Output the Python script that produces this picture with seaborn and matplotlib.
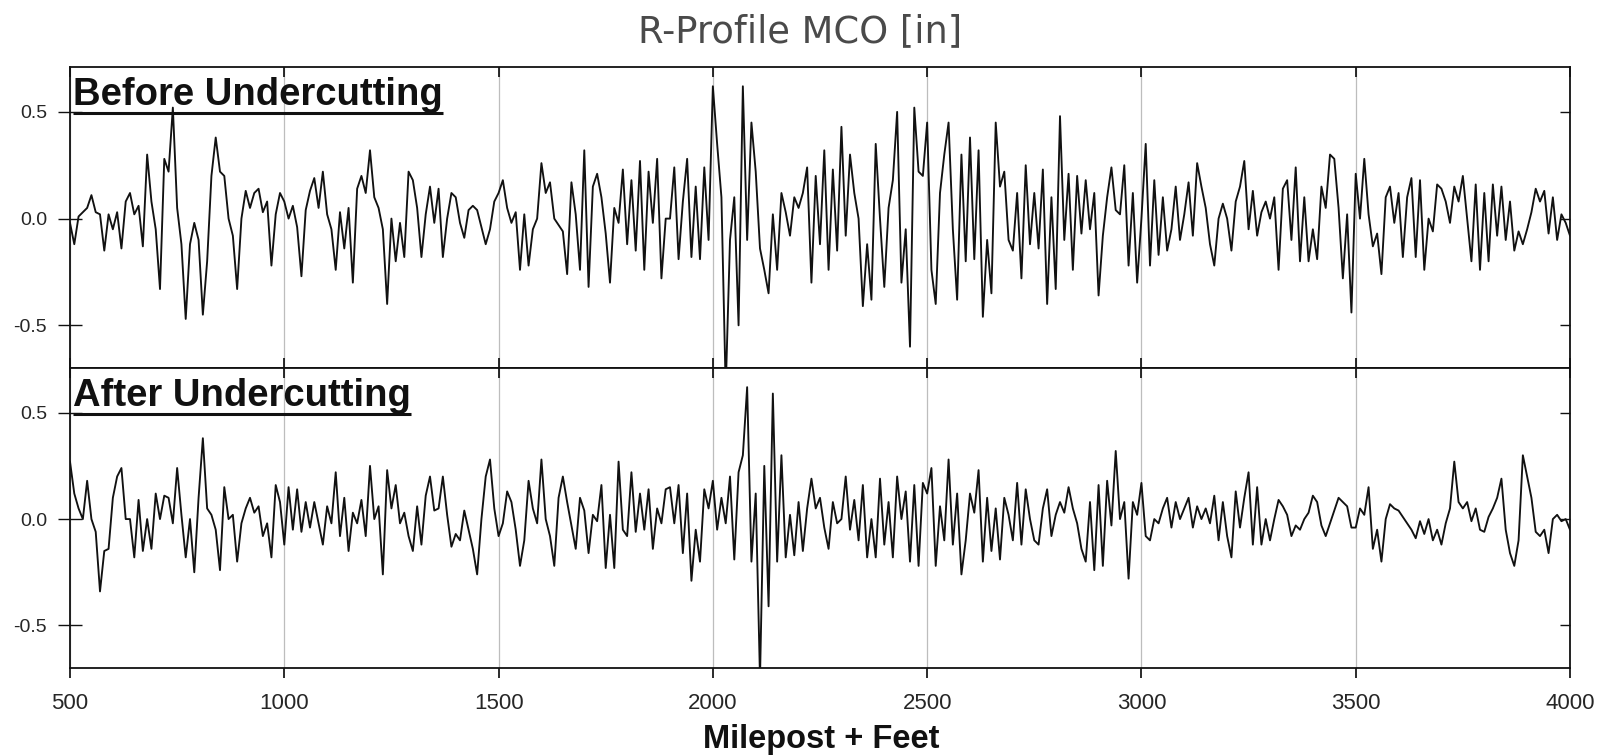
import matplotlib
matplotlib.use("Agg")
import matplotlib.pyplot as plt
from matplotlib import lines as mlines
import numpy as np
import pandas as pd
import seaborn as sns

# Milepost + feet, one reading every 10 ft
feet = np.arange(500, 4001, 10)

# R-profile MCO [in]
before = [
    -0.02, -0.12, 0.01, 0.03, 0.05, 0.11, 0.03, 0.02, -0.15, 0.02,
    -0.05, 0.03, -0.14, 0.08, 0.12, 0.02, 0.06, -0.13, 0.30, 0.08,
    -0.05, -0.33, 0.28, 0.22, 0.52, 0.05, -0.12, -0.47, -0.12, -0.02,
    -0.10, -0.45, -0.20, 0.20, 0.38, 0.22, 0.20, 0.00, -0.08, -0.33,
    0.00, 0.13, 0.05, 0.12, 0.14, 0.03, 0.08, -0.22, 0.02, 0.12,
    0.08, 0.00, 0.06, -0.04, -0.27, 0.04, 0.13, 0.19, 0.05, 0.22,
    0.02, -0.05, -0.24, 0.03, -0.14, 0.05, -0.30, 0.14, 0.20, 0.12,
    0.32, 0.10, 0.05, -0.05, -0.40, 0.00, -0.20, -0.02, -0.18, 0.22,
    0.18, 0.05, -0.18, 0.02, 0.15, -0.02, 0.14, -0.18, 0.00, 0.12,
    0.10, -0.02, -0.09, 0.04, 0.06, 0.04, -0.04, -0.12, -0.05, 0.08,
    0.12, 0.18, 0.05, -0.02, 0.03, -0.24, 0.02, -0.22, -0.05, 0.00,
    0.26, 0.12, 0.17, 0.00, -0.03, -0.06, -0.26, 0.17, 0.02, -0.24,
    0.32, -0.32, 0.15, 0.21, 0.10, -0.07, -0.30, 0.05, -0.02, 0.23,
    -0.12, 0.18, -0.15, 0.27, -0.24, 0.22, -0.02, 0.28, -0.28, 0.00,
    0.00, 0.24, -0.19, 0.08, 0.28, -0.18, 0.15, -0.19, 0.24, -0.10,
    0.62, 0.35, 0.10, -0.80, -0.10, 0.10, -0.50, 0.62, -0.10, 0.45,
    0.22, -0.14, -0.24, -0.35, 0.02, -0.24, 0.12, 0.03, -0.08, 0.10,
    0.05, 0.12, 0.24, -0.30, 0.20, -0.12, 0.32, -0.24, 0.23, -0.15,
    0.43, -0.08, 0.30, 0.12, 0.00, -0.41, -0.12, -0.38, 0.35, 0.00,
    -0.32, 0.05, 0.18, 0.50, -0.30, -0.05, -0.60, 0.52, 0.22, 0.20,
    0.45, -0.24, -0.40, 0.12, 0.30, 0.45, -0.05, -0.38, 0.30, -0.20,
    0.38, -0.19, 0.32, -0.46, -0.10, -0.35, 0.45, 0.15, 0.22, -0.10,
    -0.15, 0.12, -0.28, 0.25, -0.12, 0.12, -0.14, 0.23, -0.40, 0.10,
    -0.33, 0.48, -0.10, 0.21, -0.24, 0.20, -0.07, 0.18, -0.05, 0.12,
    -0.36, -0.08, 0.10, 0.24, 0.04, 0.02, 0.25, -0.22, 0.12, -0.30,
    0.00, 0.35, -0.22, 0.18, -0.17, 0.10, -0.15, -0.05, 0.15, -0.10,
    0.02, 0.17, -0.08, 0.26, 0.15, 0.05, -0.12, -0.22, 0.00, 0.07,
    0.00, -0.15, 0.08, 0.15, 0.27, -0.05, 0.13, -0.08, 0.03, 0.08,
    0.00, 0.10, -0.24, 0.14, 0.18, -0.10, 0.24, -0.20, 0.10, -0.20,
    -0.05, -0.19, 0.15, 0.05, 0.30, 0.28, 0.05, -0.28, 0.02, -0.44,
    0.21, 0.00, 0.28, 0.02, -0.13, -0.07, -0.26, 0.10, 0.15, -0.02,
    0.12, -0.18, 0.10, 0.19, -0.18, 0.18, -0.24, 0.00, -0.06, 0.16,
    0.14, 0.08, -0.02, 0.15, 0.08, 0.20, 0.00, -0.20, 0.16, -0.24,
    0.12, -0.20, 0.16, -0.08, 0.15, -0.10, 0.08, -0.15, -0.06, -0.12,
    -0.05, 0.03, 0.14, 0.08, 0.13, -0.07, 0.10, -0.10, 0.02, -0.02,
    -0.08,
]

after = [
    0.27, 0.12, 0.05, 0.00, 0.18, 0.00, -0.06, -0.34, -0.15, -0.14,
    0.10, 0.20, 0.24, 0.00, 0.00, -0.18, 0.09, -0.15, 0.00, -0.14,
    0.12, 0.00, 0.11, 0.10, -0.02, 0.24, 0.02, -0.18, 0.00, -0.25,
    0.10, 0.38, 0.05, 0.02, -0.05, -0.24, 0.15, 0.00, 0.02, -0.20,
    -0.02, 0.05, 0.10, 0.03, 0.06, -0.08, -0.02, -0.18, 0.16, 0.08,
    -0.12, 0.15, -0.05, 0.14, -0.06, 0.08, -0.04, 0.08, -0.02, -0.12,
    0.06, -0.02, 0.22, -0.08, 0.10, -0.15, 0.03, -0.02, 0.09, -0.08,
    0.25, 0.00, 0.06, -0.26, 0.23, 0.05, 0.16, -0.02, 0.03, -0.08,
    -0.15, 0.06, -0.12, 0.11, 0.20, 0.04, 0.05, 0.20, 0.02, -0.13,
    -0.07, -0.10, 0.04, -0.05, -0.14, -0.26, 0.00, 0.20, 0.28, 0.05,
    -0.08, -0.02, 0.13, 0.08, -0.05, -0.22, -0.10, 0.18, 0.05, -0.02,
    0.28, 0.00, -0.08, -0.22, 0.10, 0.20, 0.08, -0.03, -0.14, 0.10,
    0.04, -0.16, 0.02, -0.01, 0.16, -0.23, 0.02, -0.23, 0.27, -0.05,
    -0.08, 0.22, -0.06, 0.12, -0.05, 0.14, -0.14, 0.05, -0.02, 0.14,
    0.15, -0.02, 0.16, -0.16, 0.12, -0.29, -0.05, -0.20, 0.14, 0.05,
    0.18, -0.05, 0.10, -0.02, 0.20, -0.19, 0.22, 0.30, 0.62, -0.20,
    0.12, -0.75, 0.25, -0.41, 0.59, -0.20, 0.30, -0.18, 0.02, -0.17,
    0.08, -0.15, 0.05, 0.19, 0.05, 0.10, -0.04, -0.14, 0.08, -0.02,
    0.00, 0.20, -0.05, 0.09, -0.10, 0.16, -0.18, 0.00, -0.18, 0.19,
    -0.12, 0.08, -0.18, 0.20, 0.00, 0.13, -0.20, 0.16, -0.22, 0.17,
    0.12, 0.24, -0.22, 0.06, -0.10, 0.28, -0.12, 0.12, -0.26, -0.10,
    0.12, 0.03, 0.23, -0.20, 0.10, -0.15, 0.05, -0.19, 0.10, 0.02,
    -0.10, 0.17, -0.12, 0.14, 0.00, -0.10, -0.12, 0.05, 0.14, -0.08,
    0.02, 0.08, 0.03, 0.15, 0.05, -0.02, -0.14, -0.20, 0.08, -0.24,
    0.16, -0.22, 0.18, -0.03, 0.32, 0.00, 0.08, -0.28, 0.08, 0.02,
    0.17, -0.08, -0.10, 0.00, -0.02, 0.05, 0.10, -0.04, 0.08, 0.00,
    0.05, 0.10, -0.04, 0.06, 0.00, 0.05, -0.02, 0.11, -0.10, 0.08,
    -0.08, -0.18, 0.13, -0.04, 0.10, 0.22, -0.12, 0.15, -0.12, 0.00,
    -0.10, 0.00, 0.09, 0.06, 0.02, -0.08, -0.03, -0.05, 0.00, 0.03,
    0.11, 0.08, -0.03, -0.08, -0.02, 0.04, 0.10, 0.08, 0.06, -0.04,
    -0.04, 0.05, 0.02, 0.15, -0.14, -0.05, -0.20, 0.00, 0.07, 0.05,
    0.04, 0.01, -0.02, -0.05, -0.09, -0.01, -0.07, 0.00, -0.10, -0.05,
    -0.12, -0.02, 0.05, 0.27, 0.08, 0.05, 0.08, -0.01, 0.05, -0.05,
    -0.06, 0.01, 0.05, 0.10, 0.19, -0.05, -0.16, -0.22, -0.10, 0.30,
    0.20, 0.10, -0.06, -0.08, -0.05, -0.16, 0.00, 0.02, -0.01, 0.00,
    -0.05,
]

panel_titles = ["Before Undercutting", "After Undercutting"]
x_ticks = [500, 1000, 1500, 2000, 2500, 3000, 3500, 4000]
y_ticks = [-0.5, 0.0, 0.5]
y_ticklabels = ["-0.5", "0.0", "0.5"]

df = pd.DataFrame({"feet": feet, "Before": before, "After": after})

sns.set_theme(style="white")
plt.rcParams["font.family"] = ["Liberation Sans", "DejaVu Sans"]

fig = plt.figure(figsize=(16, 7.56), dpi=100)
ax_top = fig.add_axes([0.04375, 0.5132, 0.9375, 0.3981])
ax_bot = fig.add_axes([0.04375, 0.1164, 0.9375, 0.3968])

labels = []
for ax, col, name in zip([ax_top, ax_bot], ["Before", "After"], panel_titles):
    sns.lineplot(data=df, x="feet", y=col, ax=ax, color="#111111", linewidth=1.35)
    ax.set_xlim(500, 4000)
    ax.set_ylim(-0.70, 0.71)
    ax.set_xticks(x_ticks)
    ax.set_yticks(y_ticks)
    ax.set_yticklabels(y_ticklabels)
    ax.grid(axis="x", color="#bdbdbd", linewidth=0.9)
    ax.grid(axis="y", visible=False)
    ax.set_xlabel("")
    ax.set_ylabel("")
    for sp in ax.spines.values():
        sp.set_color("#111111")
        sp.set_linewidth(1.3)
    ax.yaxis.set_ticks_position("both")
    ax.tick_params(axis="y", left=True, right=True, direction="inout", length=17,
                   width=1.0, color="#111111", labelsize=14, pad=8)
    t = ax.text(0.002, 0.968, name, transform=ax.transAxes, ha="left", va="top",
                fontsize=27.5, fontweight="bold", color="#111111")
    labels.append((ax, t))

ax_top.tick_params(axis="x", bottom=True, top=True, direction="in", length=7,
                   color="#111111", labelbottom=False)
ax_bot.tick_params(axis="x", bottom=True, top=True, direction="out", length=7,
                   color="#111111", labelsize=16, pad=11)

# right-hand y ticks point inward, top x ticks of the lower panel too
for ax in [ax_top, ax_bot]:
    for tk in ax.yaxis.get_major_ticks():
        tk.tick2line.set_marker(mlines.TICKLEFT)
        tk.tick2line.set_markersize(7)
for tk in ax_bot.xaxis.get_major_ticks():
    tk.tick2line.set_marker(mlines.TICKDOWN)
    tk.tick2line.set_markersize(7)

fig.text(0.5135, 0.0106, "Milepost + Feet", ha="center", va="baseline",
         fontsize=23.5, fontweight="bold", color="#111111")

fig.text(0.5, 0.944, "R-Profile MCO [in]", ha="center", va="baseline",
         fontsize=26.5, color="#4a4a4a", family=["DejaVu Sans"])

# underline the panel labels
fig.canvas.draw()
for ax, t in labels:
    bb = t.get_window_extent().transformed(ax.transAxes.inverted())
    ax.plot([bb.x0, bb.x1], [bb.y0 - 0.002, bb.y0 - 0.002], transform=ax.transAxes,
            color="#111111", linewidth=2.2, solid_capstyle="butt", clip_on=False)

fig.savefig("out.png", dpi=100)
